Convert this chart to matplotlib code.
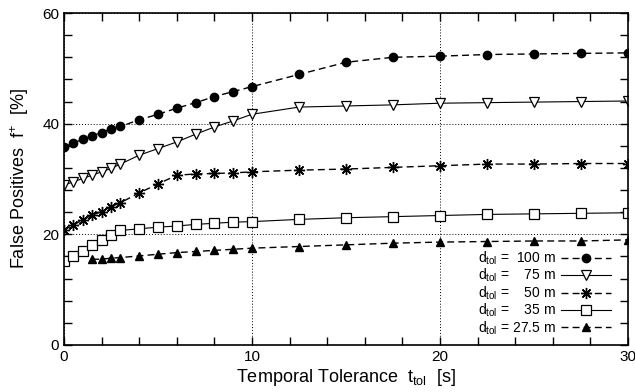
import matplotlib
matplotlib.use("Agg")
import matplotlib.pyplot as plt

plt.rcParams['font.family'] = ['Liberation Sans', 'DejaVu Sans']
plt.rcParams['mathtext.fontset'] = 'custom'
plt.rcParams['mathtext.rm'] = 'Liberation Sans'
plt.rcParams['mathtext.it'] = 'Liberation Sans'

# temporal tolerance [s]
t_full = [0, 0.5, 1, 1.5, 2, 2.5, 3, 4, 5, 6, 7, 8, 9, 10, 12.5, 15, 17.5, 20, 22.5, 25, 27.5, 30]
t_short = [1.5, 2, 2.5, 3, 4, 5, 6, 7, 8, 9, 10, 12.5, 15, 17.5, 20, 22.5, 25, 27.5, 30]

fp_100 = [35.8, 36.5, 37.2, 37.8, 38.4, 39.1, 39.5, 40.7, 41.7, 42.8, 43.8, 44.9, 45.8, 46.7,
          48.9, 51.1, 52.0, 52.2, 52.5, 52.6, 52.7, 52.8]
fp_75 = [28.9, 29.5, 30.1, 30.7, 31.3, 31.9, 32.7, 34.3, 35.5, 36.7, 38.1, 39.4, 40.5, 41.7,
         43.0, 43.2, 43.4, 43.7, 43.8, 43.9, 44.0, 44.1]
fp_50 = [20.8, 21.7, 22.6, 23.5, 24.1, 25.0, 25.7, 27.5, 29.1, 30.7, 30.9, 31.0, 31.1, 31.3,
         31.6, 31.8, 32.1, 32.4, 32.7, 32.7, 32.8, 32.8]
fp_35 = [15.2, 16.1, 17.0, 18.1, 19.0, 19.9, 20.7, 21.0, 21.3, 21.5, 21.8, 22.0, 22.2, 22.3,
         22.7, 23.0, 23.2, 23.4, 23.6, 23.7, 23.8, 23.9]
fp_27 = [15.5, 15.5, 15.7, 15.8, 16.1, 16.4, 16.7, 16.9, 17.1, 17.3, 17.5,
         17.8, 18.1, 18.4, 18.6, 18.7, 18.8, 18.8, 19.0]

FS = '\u2007'   # figure space (digit width)
PS = '\u2008'   # punctuation space
labels = [
    r"d$_{\mathrm{tol}}$ = " + PS + "100 m",
    r"d$_{\mathrm{tol}}$ = " + PS + FS + "75 m",
    r"d$_{\mathrm{tol}}$ = " + PS + FS + "50 m",
    r"d$_{\mathrm{tol}}$ = " + PS + FS + "35 m",
    r"d$_{\mathrm{tol}}$ = 27.5 m",
]

fig = plt.figure(figsize=(6.35, 3.92), dpi=100)
ax = fig.add_axes([0.1008, 0.1199, 0.8882, 0.8469])

k = dict(color='black', lw=1.0)
ax.plot(t_full, fp_100, ls=(0, (5, 3)), marker='o', ms=6, mfc='black', label=labels[0], **k)
ax.plot(t_full, fp_75, ls='-', marker='v', ms=7, mfc='white', mew=0.9, label=labels[1], color='black', lw=0.8)
ax.plot(t_full, fp_50, ls=(0, (5, 3)), marker=(8, 2, 0), ms=8, mew=1.0, label=labels[2], **k)
ax.plot(t_full, fp_35, ls='-', marker='s', ms=6.5, mfc='white', mew=0.9, label=labels[3], color='black', lw=0.8)
ax.plot(t_short, fp_27, ls=(0, (5, 3)), marker='^', ms=6, mfc='black', label=labels[4], **k)

ax.set_xlim(0, 30)
ax.set_ylim(0, 60)
ax.set_xticks([0, 10, 20, 30])
ax.set_xticks(range(0, 31, 2), minor=True)
ax.set_yticks([0, 20, 40, 60])
ax.set_yticks(range(0, 61, 4), minor=True)
ax.tick_params(which='both', direction='in', top=True, right=True, labelsize=11)
ax.tick_params(which='major', length=6, width=1.0)
ax.tick_params(which='minor', length=6, width=1.0)
for s in ax.spines.values():
    s.set_linewidth(1.2)

ax.grid(True, which='major', ls=(0, (1, 2)), color='black', lw=0.7)

ax.set_xlabel(r"Temporal Tolerance  t$_{\mathrm{tol}}$  [s]", fontsize=13, labelpad=2)
ax.set_ylabel(r"False Positives  f$^{+}$  [%]", fontsize=13, labelpad=8)

leg = ax.legend(loc='lower right', bbox_to_anchor=(0.985, 0.0), frameon=False, markerfirst=False,
                fontsize=10, handlelength=3.6, labelspacing=0.0, handletextpad=0.4,
                borderaxespad=0.2)

fig.savefig("out.png", dpi=100)
